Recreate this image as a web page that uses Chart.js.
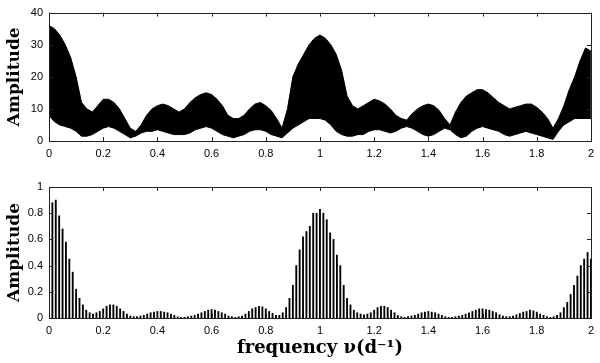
<!DOCTYPE html>
<html>
<head>
<meta charset="utf-8">
<script src="https://cdn.jsdelivr.net/npm/chart.js@4/dist/chart.umd.min.js"></script>
<style>
  html, body { margin: 0; padding: 0; background: #fff; }
  #wrap { position: relative; width: 600px; height: 363px; }
  canvas { position: absolute; left: 0; }
  #topChart { top: 0; }
  #bottomChart { top: 163px; }
</style>
</head>
<body>
<div id="wrap">
  <canvas id="topChart" width="600" height="160"></canvas>
  <canvas id="bottomChart" width="600" height="200"></canvas>
</div>
<script>
// amplitude spectrum (top): sampled every 0.02 d^-1, upper and lower edge of the black band
const topStep = 0.02;
const topUpper = [
  36, 35, 33, 30, 26, 20, 12, 10, 9, 11,
  13, 13, 12, 10, 7, 4, 3, 5, 8, 10,
  11, 11.5, 11, 10, 9, 10, 12, 13.5, 14.5, 15,
  14.5, 13, 11, 8, 7, 7, 8, 10, 11.5, 12,
  11, 9.5, 7, 4, 10, 20, 24, 27, 30, 32,
  33, 32, 30, 27, 22, 14, 11, 10, 11, 12,
  13, 12.5, 11.5, 10, 8, 7, 6.5, 8.5, 10, 11,
  11.5, 11, 9.5, 7, 5, 9, 12, 14, 15, 16,
  16, 15, 13.5, 12, 11, 10, 10.5, 11, 11.5, 11.5,
  10.5, 9, 7, 4, 7, 11, 16, 20, 25, 29,
  28
];
const topLower = [
  8, 6, 5, 4.5, 4, 3, 1.5, 1.5, 2, 3,
  4, 4.5, 4, 3, 2, 1, 1.5, 2.5, 3, 3,
  3.5, 3, 2.5, 2, 2, 2, 2.5, 3.5, 4, 4.5,
  4, 3, 2, 1.5, 1, 1.5, 2, 3, 3.5, 3.5,
  3, 2, 1.5, 1, 2.5, 4, 5, 6, 7, 7,
  7, 6.5, 5, 3, 2, 1.5, 1.5, 2, 2, 3,
  3.5, 3.5, 3, 2.5, 3, 4, 4.5, 4, 3, 2,
  1.5, 2, 3, 4, 3.5, 2, 1, 1.5, 3, 4,
  4.5, 4, 3.5, 3, 2, 1.5, 2, 2.5, 3, 2.5,
  2, 1.5, 1, 0.5, 3, 5, 6, 7, 7, 7,
  7
];

// spectral window (bottom): spike heights every 0.0125 d^-1
const spikeStep = 0.0125;
const spikeAmp = [
  0.62, 0.88, 0.90, 0.78, 0.68, 0.58, 0.45, 0.35,
  0.22, 0.15, 0.10, 0.06, 0.04, 0.03, 0.04, 0.05,
  0.07, 0.09, 0.10, 0.10, 0.09, 0.07, 0.05, 0.03,
  0.015, 0.01, 0.01, 0.015, 0.02, 0.03, 0.04, 0.045,
  0.05, 0.05, 0.045, 0.04, 0.03, 0.02, 0.01, 0.005,
  0.005, 0.01, 0.015, 0.02, 0.03, 0.04, 0.05, 0.06,
  0.065, 0.06, 0.05, 0.04, 0.03, 0.015, 0.01, 0.005,
  0.01, 0.015, 0.03, 0.05, 0.07, 0.08, 0.09, 0.085,
  0.07, 0.05, 0.035, 0.02, 0.02, 0.04, 0.08, 0.15,
  0.25, 0.40, 0.52, 0.62, 0.66, 0.70, 0.80, 0.80,
  0.83, 0.80, 0.75, 0.65, 0.60, 0.48, 0.40, 0.25,
  0.15, 0.10, 0.06, 0.04, 0.03, 0.025, 0.03, 0.04,
  0.06, 0.08, 0.09, 0.09, 0.08, 0.06, 0.04, 0.02,
  0.01, 0.005, 0.01, 0.015, 0.02, 0.03, 0.04, 0.045,
  0.05, 0.045, 0.04, 0.03, 0.02, 0.01, 0.005, 0.005,
  0.01, 0.015, 0.02, 0.03, 0.04, 0.05, 0.06, 0.07,
  0.07, 0.065, 0.06, 0.05, 0.04, 0.025, 0.015, 0.01,
  0.01, 0.015, 0.025, 0.035, 0.045, 0.05, 0.06, 0.055,
  0.045, 0.03, 0.02, 0.01, 0.005, 0.01, 0.02, 0.04,
  0.08, 0.12, 0.18, 0.25, 0.32, 0.40, 0.45, 0.50,
  0.45
];

const xTicks = [0, 0.2, 0.4, 0.6, 0.8, 1, 1.2, 1.4, 1.6, 1.8, 2];
const xTickLabels = ['0', '0.2', '0.4', '0.6', '0.8', '1', '1.2', '1.4', '1.6', '1.8', '2'];
const topYTicks = [0, 10, 20, 30, 40];
const bottomYTicks = [0, 0.2, 0.4, 0.6, 0.8, 1];
const bottomYLabels = ['0', '0.2', '0.4', '0.6', '0.8', '1'];

const tickFont = { family: '"Liberation Sans", Arial, sans-serif', size: 11 };
const titleFont = { family: '"DejaVu Serif", serif', weight: 'bold', size: 17 };

// box around the plot plus inward tick marks on all four sides
const framePlugin = {
  id: 'frame',
  afterDraw(chart) {
    const { ctx, chartArea: a, scales } = chart;
    const x = scales.x, y = scales.y;
    ctx.save();
    ctx.strokeStyle = '#222';
    ctx.lineWidth = 1;
    ctx.strokeRect(Math.round(a.left) + 0.5, Math.round(a.top) + 0.5,
      Math.round(a.right - a.left), Math.round(a.bottom - a.top));
    ctx.beginPath();
    x.ticks.forEach(t => {
      const px = Math.round(x.getPixelForValue(t.value)) + 0.5;
      ctx.moveTo(px, a.top); ctx.lineTo(px, a.top + 4);
      ctx.moveTo(px, a.bottom); ctx.lineTo(px, a.bottom - 4);
    });
    y.ticks.forEach(t => {
      const py = Math.round(y.getPixelForValue(t.value)) + 0.5;
      ctx.moveTo(a.left, py); ctx.lineTo(a.left + 4, py);
      ctx.moveTo(a.right, py); ctx.lineTo(a.right - 4, py);
    });
    ctx.stroke();
    ctx.restore();
  }
};

function xScale(height, withTitle) {
  return {
    type: 'linear',
    min: 0,
    max: 2,
    offset: false,
    grid: { display: false, drawTicks: false, offset: false },
    border: { display: false },
    afterBuildTicks: s => { s.ticks = xTicks.map(v => ({ value: v })); },
    afterFit: s => { s.height = height; },
    ticks: {
      font: tickFont,
      color: '#000',
      padding: 6,
      maxRotation: 0,
      callback: (v, i) => xTickLabels[i]
    },
    title: withTitle ? {
      display: true,
      text: 'frequency ν(d⁻¹)',
      color: '#000',
      font: { family: '"DejaVu Serif", serif', weight: 'bold', size: 18 },
      padding: { top: 0, bottom: 4 }
    } : { display: false }
  };
}

function yScale(max, ticksArr, labels) {
  return {
    min: 0,
    max: max,
    grid: { display: false, drawTicks: false },
    border: { display: false },
    afterBuildTicks: s => { s.ticks = ticksArr.map(v => ({ value: v })); },
    afterFit: s => { s.width = 49; },
    ticks: {
      font: tickFont,
      color: '#000',
      padding: 6,
      callback: (v, i) => labels[i]
    },
    title: {
      display: true,
      text: 'Amplitude',
      color: '#000',
      font: titleFont,
      padding: { top: 4, bottom: 0 }
    }
  };
}

// top panel: black band between lower and upper edge
new Chart(document.getElementById('topChart'), {
  type: 'line',
  data: {
    datasets: [
      {
        data: topLower.map((v, i) => ({ x: i * topStep, y: v })),
        borderColor: '#000',
        borderWidth: 1,
        pointRadius: 0,
        tension: 0,
        fill: false
      },
      {
        data: topUpper.map((v, i) => ({ x: i * topStep, y: v })),
        borderColor: '#000',
        backgroundColor: '#000',
        borderWidth: 1,
        pointRadius: 0,
        tension: 0,
        fill: '-1'
      }
    ]
  },
  options: {
    responsive: false,
    animation: false,
    layout: { padding: { top: 10, right: 5, left: 0, bottom: 0 } },
    plugins: { legend: { display: false }, tooltip: { enabled: false } },
    scales: {
      x: xScale(19, false),
      y: yScale(40, topYTicks, topYTicks.map(String))
    }
  },
  plugins: [framePlugin]
});

// bottom panel: spikes of the spectral window
new Chart(document.getElementById('bottomChart'), {
  type: 'bar',
  data: {
    datasets: [{
      data: spikeAmp.map((v, i) => ({ x: i * spikeStep, y: v })),
      backgroundColor: '#000',
      barThickness: 1.2
    }]
  },
  options: {
    responsive: false,
    animation: false,
    layout: { padding: { top: 24, right: 5, left: 0, bottom: 0 } },
    plugins: { legend: { display: false }, tooltip: { enabled: false } },
    scales: {
      x: xScale(45, true),
      y: yScale(1, bottomYTicks, bottomYLabels)
    }
  },
  plugins: [framePlugin]
});
</script>
</body>
</html>
